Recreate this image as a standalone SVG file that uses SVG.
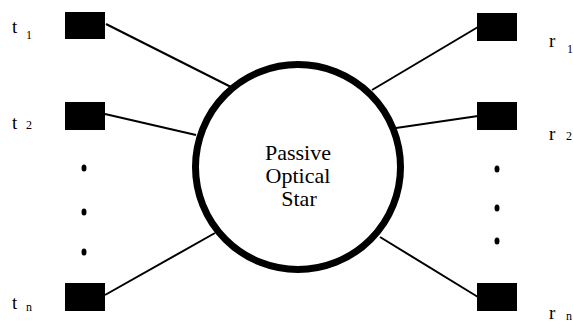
<svg xmlns="http://www.w3.org/2000/svg" width="573" height="323" viewBox="0 0 573 323">
<style>
.box{fill:#000}
.ln{stroke:#000;stroke-width:2;fill:none}
text{font-family:"Times New Roman",Times,"Liberation Serif","DejaVu Serif","Noto Serif",Tinos,serif;fill:#000}
.lbl{font-size:19px}
.sub{font-size:12px}
.ctr{font-size:22px;text-anchor:middle}
.dot{fill:#000}
</style>
<rect width="573" height="323" fill="#fff"/>
<g id="connectors">
<line class="ln" x1="106" y1="24" x2="231" y2="87"/>
<line class="ln" x1="105" y1="114" x2="196" y2="135"/>
<line class="ln" x1="105" y1="295" x2="215" y2="233"/>
<line class="ln" x1="372" y1="90" x2="478" y2="27"/>
<line class="ln" x1="396" y1="128" x2="478" y2="116"/>
<line class="ln" x1="380" y1="237" x2="478" y2="297"/>
</g>
<g id="star">
<circle cx="298" cy="167" r="102.5" fill="#fff" stroke="#000" stroke-width="7"/>
<text class="ctr" x="298" y="160">Passive</text>
<text class="ctr" x="298" y="183">Optical</text>
<text class="ctr" x="299" y="206">Star</text>
</g>
<g id="t1"><rect class="box" x="65" y="12" width="40" height="27"/><text class="lbl" x="12" y="33">t</text><text class="sub" x="26" y="39">1</text></g>
<g id="t2"><rect class="box" x="65" y="102" width="40" height="28"/><text class="lbl" x="12" y="129">t</text><text class="sub" x="26" y="129">2</text></g>
<g id="tn"><rect class="box" x="65" y="283" width="40" height="28"/><text class="lbl" x="12" y="309">t</text><text class="sub" x="26" y="311">n</text></g>
<g id="r1"><rect class="box" x="477" y="13" width="40" height="28"/><text class="lbl" x="549" y="47">r</text><text class="sub" x="567" y="53">1</text></g>
<g id="r2"><rect class="box" x="477" y="102" width="40" height="28"/><text class="lbl" x="549" y="140">r</text><text class="sub" x="566" y="140">2</text></g>
<g id="rn"><rect class="box" x="477" y="283" width="40" height="28"/><text class="lbl" x="549" y="319">r</text><text class="sub" x="566" y="320">n</text></g>
<g id="dots-left">
<ellipse class="dot" cx="84" cy="168" rx="2.5" ry="3.5"/>
<ellipse class="dot" cx="84" cy="212" rx="2.5" ry="3.5"/>
<ellipse class="dot" cx="84" cy="252" rx="2.5" ry="3.5"/>
</g>
<g id="dots-right">
<ellipse class="dot" cx="497" cy="169" rx="2.5" ry="3.5"/>
<ellipse class="dot" cx="497" cy="208" rx="2.5" ry="3.5"/>
<ellipse class="dot" cx="497" cy="241" rx="2.5" ry="3.5"/>
</g>
</svg>
